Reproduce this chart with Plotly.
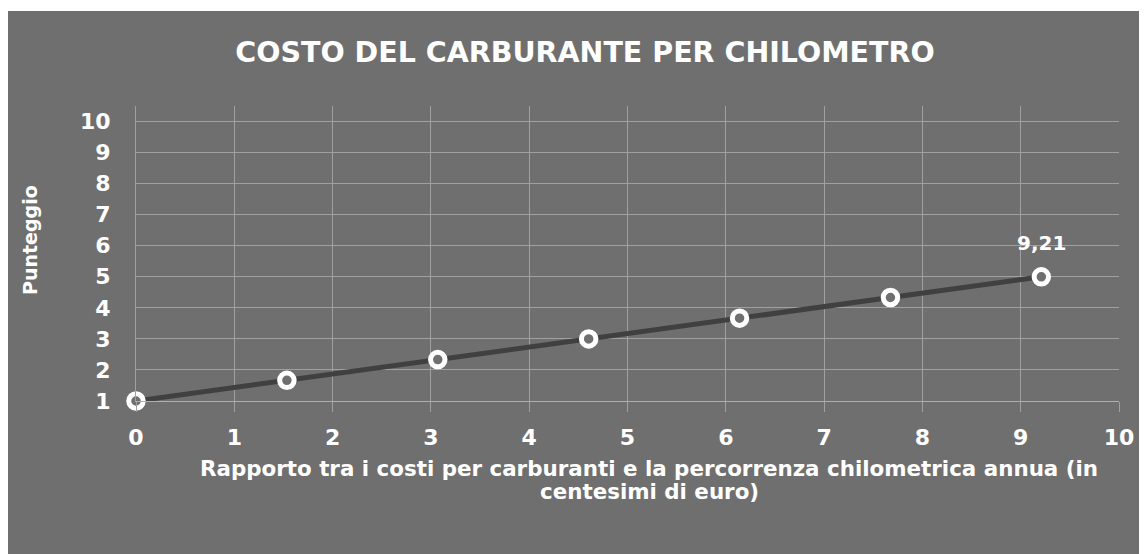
import plotly.graph_objects as go

# dati
rapporto = [0, 1.535, 3.07, 4.605, 6.14, 7.675, 9.21]
punteggio = [1, 1.667, 2.333, 3.0, 3.667, 4.333, 5.0]
etichetta_finale = "9,21"

titolo = "COSTO DEL CARBURANTE PER CHILOMETRO"
titolo_x = ["Rapporto tra i costi per carburanti e la percorrenza chilometrica annua (in",
            "centesimi di euro)"]
titolo_y = "Punteggio"

sfondo = "#6f6f6f"
griglia = "#a0a0a0"
bianco = "#ffffff"
font = "DejaVu Sans"

# area del grafico (px nella figura)
L, R, T, B = 128, 28, 98, 153
W, H = 1139, 546
pw, ph = W - L - R, H - T - B


def px(x):
    return (x - L) / pw


def py(y):
    return (H - B - y) / ph


fig = go.Figure()
fig.add_trace(go.Scatter(
    x=rapporto,
    y=punteggio,
    mode="lines+markers",
    line=dict(color="#404040", width=5),
    marker=dict(size=14.5, color=sfondo, line=dict(color=bianco, width=5)),
    cliponaxis=False,
    showlegend=False,
))

fig.add_annotation(x=rapporto[-1], y=punteggio[-1], text="<b>" + etichetta_finale + "</b>",
                   showarrow=False, yshift=34,
                   font=dict(family=font, size=20, color=bianco))

# striscia bianca in alto
fig.add_shape(type="rect", xref="paper", yref="paper",
              x0=px(0), x1=px(W), y0=py(3), y1=py(0),
              fillcolor=bianco, line=dict(width=0), layer="below")

fig.update_layout(
    width=W, height=H,
    margin=dict(l=L, r=R, t=T, b=B),
    paper_bgcolor=sfondo,
    plot_bgcolor=sfondo,
    title=dict(text="<b>" + titolo + "</b>",
               xref="container", x=577 / W, xanchor="center",
               yref="container", y=1 - 44 / H, yanchor="middle",
               font=dict(family=font, size=28.5, color=bianco)),
    font=dict(family=font, color=bianco),
)

fig.update_xaxes(
    range=[0, 10], dtick=1, tick0=0,
    showgrid=True, gridcolor=griglia, gridwidth=1, zeroline=False,
    showline=True, linecolor="#b0b0b0", linewidth=1,
    ticks="outside", ticklen=10, tickcolor=griglia, tickwidth=1,
    tickfont=dict(family=font, size=22, color=bianco, weight="bold"),
    ticklabelstandoff=7,
)
fig.update_yaxes(
    range=[1, 10.5], dtick=1, tick0=1,
    showgrid=True, gridcolor=griglia, gridwidth=1, zeroline=False,
    showline=True, linecolor=griglia, linewidth=1,
    tickfont=dict(family=font, size=22, color=bianco, weight="bold"),
    ticklabelstandoff=20,
)

for riga, yy in zip(titolo_x, [460, 483]):
    fig.add_annotation(
        text="<b>" + riga + "</b>",
        xref="paper", yref="paper", x=px(641), y=py(yy),
        xanchor="center", yanchor="middle", showarrow=False,
        font=dict(family=font, size=21.4, color=bianco),
    )
fig.add_annotation(
    text="<b>" + titolo_y + "</b>", textangle=-90,
    xref="paper", yref="paper", x=px(22), y=py(232),
    xanchor="center", yanchor="middle", showarrow=False,
    font=dict(family=font, size=19, color=bianco),
)

fig.write_html("out.html")
